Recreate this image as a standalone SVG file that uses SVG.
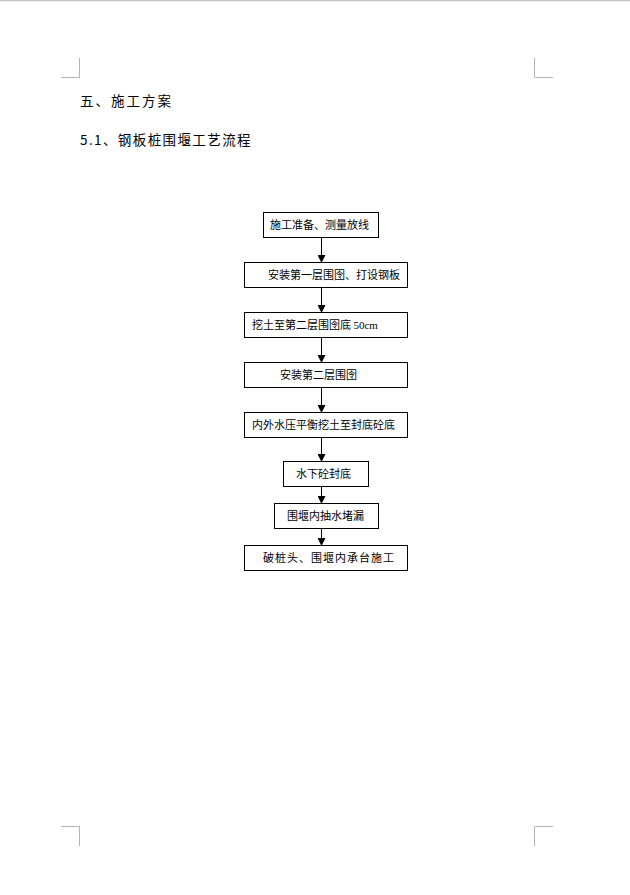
<svg xmlns="http://www.w3.org/2000/svg" width="630" height="895" viewBox="0 0 630 895">
<style>
.box{fill:#fff;stroke:#000;stroke-width:1}
.t{font-family:"Noto Sans CJK SC","Liberation Sans",sans-serif;font-size:11px;fill:#000}
.s{font-family:"Liberation Serif",serif}
.h{font-family:"Noto Sans CJK SC","Liberation Sans",sans-serif;font-size:13.5px;fill:#000;letter-spacing:2px}
.mark{stroke:#b4b4b4;stroke-width:1;fill:none}
.c{stroke:#000;stroke-width:1;fill:none}
</style>
<defs>
<marker id="ah" markerWidth="8" markerHeight="8" refX="7" refY="4" orient="auto" markerUnits="userSpaceOnUse">
<path d="M0,0 L8,4 L0,8 Z" fill="#000"/>
</marker>
</defs>
<rect x="0" y="0" width="630" height="895" fill="#fff"/>
<line x1="0" y1="0.5" x2="630" y2="0.5" stroke="#c0c0c0" stroke-width="1.5"/>
<g id="marks">
<path class="mark" d="M61,77.5 H79.5 V58"/>
<path class="mark" d="M534.5,58 V77.5 H553"/>
<path class="mark" d="M61,826.5 H79.5 V846"/>
<path class="mark" d="M534.5,846 V826.5 H553"/>
</g>
<text class="h" x="80" y="106">五、施工方案</text>
<text class="h" x="80" y="145" style="letter-spacing:1.4px">5.1、钢板桩围堰工艺流程</text>
<g id="connectors">
<line class="c" x1="321.5" y1="237" x2="321.5" y2="262" marker-end="url(#ah)"/>
<line class="c" x1="321.5" y1="287" x2="321.5" y2="312" marker-end="url(#ah)"/>
<line class="c" x1="321.5" y1="337" x2="321.5" y2="362" marker-end="url(#ah)"/>
<line class="c" x1="321.5" y1="387" x2="321.5" y2="412" marker-end="url(#ah)"/>
<line class="c" x1="321.5" y1="437" x2="321.5" y2="461" marker-end="url(#ah)"/>
<line class="c" x1="321.5" y1="486" x2="321.5" y2="503" marker-end="url(#ah)"/>
<line class="c" x1="321.5" y1="528" x2="321.5" y2="545" marker-end="url(#ah)"/>
</g>
<g id="n1"><rect class="box" x="263.5" y="212.5" width="115" height="25"/><text class="t" x="270" y="229">施工准备、测量放线</text></g>
<g id="n2"><rect class="box" x="244.5" y="262.5" width="163" height="25"/><text class="t" x="268" y="279">安装第一层围囹、打设钢板</text></g>
<g id="n3"><rect class="box" x="244.5" y="312.5" width="163" height="25"/><text class="t" x="252" y="329">挖土至第二层围囹底 <tspan class="s">50cm</tspan></text></g>
<g id="n4"><rect class="box" x="244.5" y="362.5" width="163" height="25"/><text class="t" x="280" y="379">安装第二层围囹</text></g>
<g id="n5"><rect class="box" x="244.5" y="412.5" width="163" height="25"/><text class="t" x="252" y="429">内外水压平衡挖土至封底砼底</text></g>
<g id="n6"><rect class="box" x="283.5" y="461.5" width="85" height="25"/><text class="t" x="296" y="478">水下砼封底</text></g>
<g id="n7"><rect class="box" x="274.5" y="503.5" width="104" height="25"/><text class="t" x="287" y="520">围堰内抽水堵漏</text></g>
<g id="n8"><rect class="box" x="244.5" y="545.5" width="163" height="25"/><text class="t" x="263" y="562" style="letter-spacing:1px">破桩头、围堰内承台施工</text></g>
</svg>
